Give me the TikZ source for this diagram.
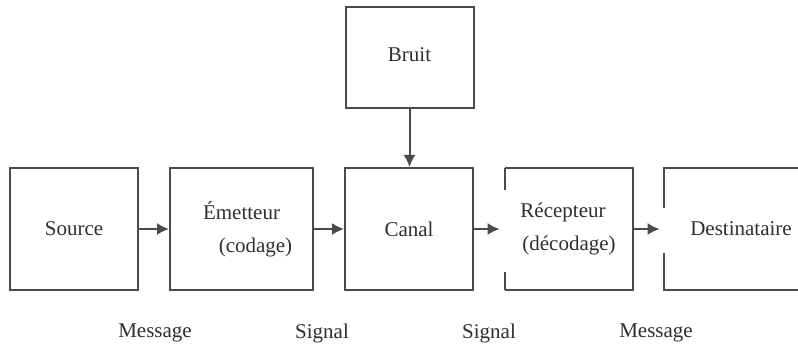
\documentclass[tikz,border=0pt]{standalone}
\usepackage{fontspec}
\setmainfont{Liberation Serif}
\usetikzlibrary{arrows.meta}
\definecolor{linec}{HTML}{4A4A4A}
\definecolor{textc}{HTML}{2E2E2E}
\begin{document}
\begin{tikzpicture}[x=0.5pt,y=-0.5pt,
  every node/.style={font=\fontsize{10.5}{16.5}\selectfont, text=textc},
  blockbox/.style={draw=linec, line width=1pt, minimum width=64pt, minimum height=61pt, inner sep=0pt, align=center},
  openbox/.style={minimum width=64pt, minimum height=61pt, inner sep=0pt, align=center},
  edge/.style={draw=linec, line width=1pt},
  conn/.style={draw=linec, line width=1pt, -{Latex[length=6pt,width=6pt]}},
  lbl/.style={anchor=center}]
\useasboundingbox (0,0) rectangle (798,352);
\node[blockbox] (src) at (74,229) {Source};
\node[blockbox, minimum width=71.5pt] (emt) at (241.5,229) {Émetteur\\\hspace*{14pt}(codage)};
\node[blockbox] (can) at (409,229) {Canal};
\node[blockbox, minimum height=50.5pt] (bru) at (409.5,57.5) {\raisebox{2.5pt}{Bruit}};
\node[openbox] (rec) at (569,229) {\hspace*{-6pt}Récepteur\\(décodage)};
\node[openbox, minimum width=67pt] (dst) at (731,229) {\hspace*{10pt}Destinataire};
% partial outlines
\path[edge] (rec.north west) -- (rec.north east) -- (rec.south east) -- (rec.south west);
\path[edge] (rec.north west) -- ++(0,22);
\path[edge] (rec.south west) -- ++(0,-18);
\path[edge] (dst.north east) -- (dst.north west) -- ++(0,40);
\path[edge] (dst.south east) -- (dst.south west) -- ++(0,-37);
% connectors
\path[conn] (bru.south) -- (can.north -| bru.south);
\path[conn] (src.east) -- (emt.west);
\path[conn] (emt.east) -- (can.west);
\path[conn] (can.east) -- ([xshift=-2.5pt]rec.west);
\path[conn] (rec.east) -- ([xshift=-2pt]dst.west);
% labels
\node[lbl] (m1) at (155,333) {Message};
\node[lbl] (s1) at (322,333) {Signal};
\node[lbl] (s2) at (489,333) {Signal};
\node[lbl] (m2) at (656,333) {Message};
\end{tikzpicture}
\end{document}
